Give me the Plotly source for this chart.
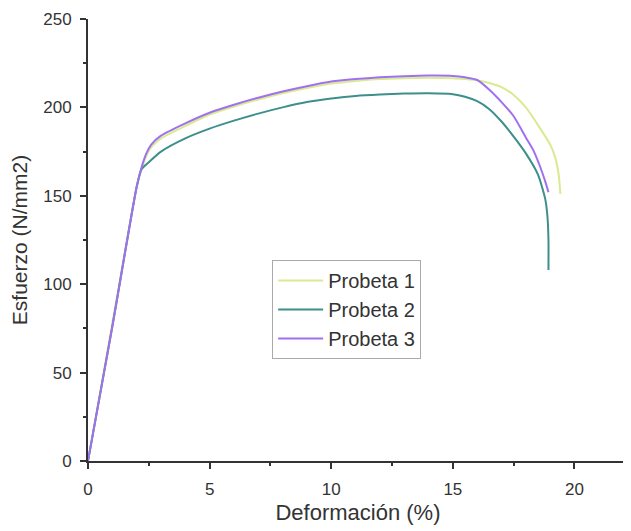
import plotly.graph_objects as go

# Probeta 1 (yellow-green)
x1 = [0, 0.5, 1.0, 1.5, 2.0, 2.2, 2.4, 2.6, 3.0, 4, 5, 6, 7, 8, 9, 10, 11, 12, 13, 14, 15, 15.5, 16, 16.5, 17, 17.5, 18, 18.5, 19, 19.2, 19.35, 19.42]
y1 = [0, 39, 78, 117, 155, 165, 172.5, 177.5, 182.5, 189.5, 196, 200.5, 204.5, 208, 211, 213.5, 215, 216, 216.5, 216.8, 216.5, 216, 215.3, 213.8, 211.5, 207, 200, 190, 179, 172, 162, 151]

# Probeta 2 (teal)
x2 = [0, 1.0, 2.0, 2.2, 2.5, 3, 4, 5, 6, 7, 8, 9, 10, 11, 12, 13, 14, 15, 15.5, 16, 16.5, 17, 17.5, 18, 18.5, 18.8, 18.89, 18.93, 18.93]
y2 = [0, 76, 155, 165, 169, 175, 182.5, 188, 192.5, 196.5, 200, 203, 205, 206.5, 207.3, 207.8, 208, 207.5, 206, 203.5, 199, 192, 183.5, 174, 162, 148, 138, 125, 108]

# Probeta 3 (purple)
x3 = [0, 1.0, 2.0, 2.2, 2.4, 2.6, 3.0, 4, 5, 6, 7, 8, 9, 10, 11, 12, 13, 14, 15, 15.5, 16, 16.5, 17, 17.5, 18, 18.3, 18.6, 18.8, 18.93]
y3 = [0, 76, 155, 166, 174, 179, 184, 191, 197, 201.5, 205.5, 209, 212, 214.6, 216, 217, 217.6, 218, 217.8, 217, 215.5, 210, 203, 195, 183, 176, 166, 158, 152]

names = ["Probeta 1", "Probeta 2", "Probeta 3"]
colors = ["#d8eb90", "#3d8f8c", "#a070ee"]

FONT = "Liberation Sans, Arial, sans-serif"

fig = go.Figure()
for xs, ys, nm, c in zip([x1, x2, x3], [y1, y2, y3], names, colors):
    fig.add_trace(go.Scatter(x=xs, y=ys, mode="lines", name=nm,
                             line=dict(color=c, width=2, shape="spline", smoothing=0.6)))

axis_common = dict(
    showline=True, linecolor="#333333", linewidth=2,
    ticks="outside", ticklen=6, tickwidth=1.5, tickcolor="#333333",
    showgrid=False, zeroline=False, automargin=False,
    tickfont=dict(family=FONT, size=17, color="#333333"),
    minor=dict(ticks="outside", ticklen=3, tickwidth=1.5, tickcolor="#333333", showgrid=False),
    mirror=False,
)

# the page body has an 8px default margin, so the figure is sized to fit the window
fig.update_layout(
    width=623, height=523,
    margin=dict(l=80, r=3, t=11, b=70),
    paper_bgcolor="white", plot_bgcolor="white",
    font=dict(family=FONT, color="#333333"),
    xaxis=dict(range=[0, 22.2], tickvals=[0, 5, 10, 15, 20], ticklabelstandoff=6,
               title=dict(text="Deformación (%)", font=dict(size=22, color="#333333"), standoff=6),
               **axis_common),
    yaxis=dict(range=[0, 250], tickvals=[0, 50, 100, 150, 200, 250], ticklabelstandoff=5,
               title=dict(text="Esfuerzo (N/mm2)", font=dict(size=21, color="#333333"), standoff=10),
               **axis_common),
    legend=dict(x=0.341, y=0.455, xanchor="left", yanchor="top",
                bgcolor="white", bordercolor="#aaaaaa", borderwidth=1,
                font=dict(size=20, color="#333333"), tracegroupgap=0,
                itemwidth=45),
    showlegend=True,
)
fig.update_xaxes(minor=dict(dtick=2.5, tick0=0))
fig.update_yaxes(minor=dict(dtick=25, tick0=0))

fig.write_html("out.html")
